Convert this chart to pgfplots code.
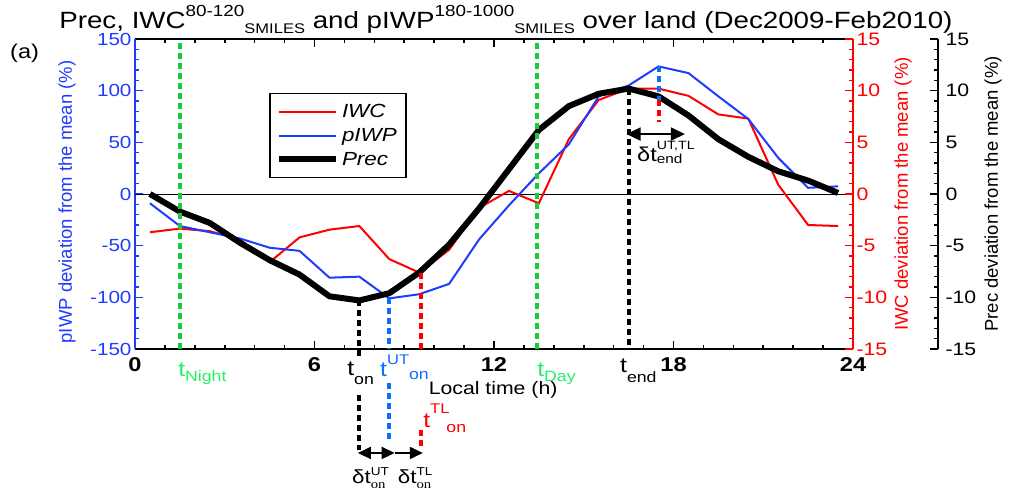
\documentclass[border=0pt]{standalone}
\usepackage{fontspec}
\setmainfont{Liberation Sans}[FakeStretch=1.18]
\newfontfamily\plainsans{Liberation Sans}
\newfontfamily\serifon{Liberation Serif}[FakeStretch=1.18]
\usepackage{pgfplots}
\usepackage{pgfplotstable}
\pgfplotsset{compat=1.18}
\usetikzlibrary{arrows.meta}
\definecolor{cRed}{RGB}{255,0,0}
\definecolor{cBlue}{RGB}{30,60,255}
\definecolor{cBlueD}{RGB}{10,110,255}
\definecolor{cGreen}{RGB}{20,205,60}
\definecolor{cGreenT}{RGB}{40,240,100}
\newcommand{\fs}[1]{\fontsize{#1bp}{#1bp}\selectfont}

\pgfplotstableread{
h    prec   piwp   iwc
0.5   0.0   -9     -3.7
1.5  -1.7   -31    -3.35
2.5  -2.8   -37    -3.6
3.5  -4.7   -43    -4.4
4.5  -6.4   -52    -6.6
5.5  -7.8   -55    -4.2
6.5  -9.9   -81    -3.45
7.5  -10.3  -80    -3.1
8.5  -9.6   -101   -6.3
9.5  -7.6   -97    -7.6
10.5 -4.9   -87    -5.4
11.5 -1.4   -44    -1.35
12.5  2.4   -11     0.3
13.5  6.2    20    -0.9
14.5  8.5    48     5.3
15.5  9.7    94.5   9.1
16.5 10.2   105    10.2
17.5  9.45  123.5  10.2
18.5  7.6   117     9.5
19.5  5.3    94.5   7.7
20.5  3.6    72.6   7.3
21.5  2.2    35     0.9
22.5  1.3     6    -3.0
23.5  0.1     7.4  -3.1
}\datatab

\begin{document}
\begin{tikzpicture}
\useasboundingbox (-135bp,-151bp) rectangle (874bp,349bp);
\begin{axis}[
  width=718bp, height=310bp, scale only axis,
  xmin=0, xmax=24, ymin=-150, ymax=150,
  clip=false,
  separate axis lines,
  x axis line style={black, line width=2bp},
  y axis line style={cBlue, line width=2bp},
  xtick={0,6,12,18,24}, xticklabels={0,6,12,18,24},
  minor x tick num=5,
  ytick={-150,-100,-50,0,50,100,150},
  yticklabels={-150,-100,-50,0,50,100,150},
  minor y tick num=4,
  xtick pos=both, ytick pos=left,
  tick align=inside,
  major tick length=8bp, minor tick length=4bp,
  x tick style={black, line width=1.6bp},
  minor x tick style={black, line width=1.6bp},
  y tick style={cBlue, line width=1.6bp},
  minor y tick style={cBlue, line width=1.6bp},
  xticklabel style={font=\bfseries\fs{20}, yshift=-5bp},
  yticklabel style={font=\fs{17.5}, text=cBlue},
  legend style={at={(rel axis cs:0.187,0.826)}, anchor=north west,
    draw=black, line width=1.5bp, fill=white,
    font=\itshape\fs{19}, inner xsep=6bp, inner ysep=8bp,
    row sep=3bp, nodes={inner sep=3bp}},
  legend cell align=left,
  legend image code/.code={\draw[#1] (0bp,0bp) -- (57bp,0bp);},
]
\addplot[black, line width=0.8bp, forget plot] coordinates {(0,0) (24,0)};
\addplot[cRed, line width=2bp] table[x=h, y expr=10*\thisrow{iwc}] {\datatab};
\addlegendentry{IWC}
\addplot[cBlue, line width=2bp] table[x=h, y=piwp] {\datatab};
\addlegendentry{pIWP}
\addplot[black, line width=6bp, line join=round] table[x=h, y expr=10*\thisrow{prec}] {\datatab};
\addlegendentry{Prec}

% vertical dashed markers
\addplot[cGreen, line width=4bp, dash pattern=on 6bp off 4bp, forget plot] coordinates {(1.5,-150) (1.5,150)};
\addplot[cGreen, line width=4bp, dash pattern=on 6bp off 4bp, forget plot] coordinates {(13.45,-150) (13.45,150)};
\addplot[black, line width=4bp, dash pattern=on 6bp off 4bp, forget plot] coordinates {(7.5,-103) (7.5,-157)};
\addplot[black, line width=4bp, dash pattern=on 6bp off 4bp, forget plot] coordinates {(7.5,-194.5) (7.5,-247.5)};
\addplot[cBlueD, line width=4bp, dash pattern=on 6bp off 4bp, forget plot] coordinates {(8.5,-101) (8.5,-150)};
\addplot[cBlueD, line width=4bp, dash pattern=on 6bp off 4bp, forget plot] coordinates {(8.5,-183) (8.5,-241)};
\addplot[cRed, line width=4bp, dash pattern=on 6bp off 4bp, forget plot] coordinates {(9.55,-76) (9.55,-150)};
\addplot[cRed, line width=4bp, dash pattern=on 6bp off 4bp, forget plot] coordinates {(9.55,-228) (9.55,-246)};
\addplot[black, line width=4bp, dash pattern=on 6bp off 4bp, forget plot] coordinates {(16.5,101.6) (16.5,-150)};
\addplot[cBlueD, line width=4bp, dash pattern=on 6bp off 4bp, forget plot] coordinates {(17.5,123.5) (17.5,91)};
\addplot[cRed, line width=4bp, dash pattern=on 6bp off 4bp, forget plot] coordinates {(17.5,91) (17.5,70)};

% arrows
\draw[{Triangle[length=13bp,width=12bp]}-{Triangle[length=13bp,width=12bp]}, line width=2bp] (axis cs:7.45,-250.6) -- (axis cs:8.68,-250.6);
\draw[-{Triangle[length=13bp,width=12bp]}, line width=2bp] (axis cs:8.68,-250.6) -- (axis cs:9.62,-250.6);
\draw[{Triangle[length=14bp,width=13bp]}-{Triangle[length=14bp,width=13bp]}, line width=2bp] (axis cs:16.43,58) -- (axis cs:18.38,58);

% labels
\node[anchor=base, inner sep=0, font=\fs{23.5}] at (axis cs:12.4,159.7)
  {Prec, IWC\raisebox{12bp}{\fs{16}80-120}\raisebox{-5bp}{\fs{14}SMILES} and pIWP\raisebox{12bp}{\fs{16}180-1000}\raisebox{-5bp}{\fs{14}SMILES} over land (Dec2009-Feb2010)};
\node[anchor=base west, inner sep=0, font=\fs{20}] at (axis cs:-4.18,131.6) {(a)};
\node[rotate=90, inner sep=0, font=\plainsans\fs{18.5}, text=cBlue] at (axis cs:-2.27,-7.7) {pIWP deviation from the mean (\%)};
\node[rotate=90, inner sep=0, font=\plainsans\fs{18.5}, text=cRed] at (axis cs:25.67,0) {IWC deviation from the mean (\%)};
\node[rotate=90, inner sep=0, font=\plainsans\fs{18.5}, text=black] at (axis cs:28.68,0) {Prec deviation from the mean (\%)};
\node[anchor=base, inner sep=0, font=\fs{18}] at (axis cs:11.97,-194) {Local time (h)};

\node[anchor=base west, inner sep=0, font=\fs{21}, text=cGreenT] at (axis cs:1.44,-177) {t\raisebox{-5bp}{\fs{15}Night}};
\node[anchor=base west, inner sep=0, font=\fs{21}, text=cGreenT] at (axis cs:13.44,-177) {t\raisebox{-5bp}{\fs{15}Day}};
\node[anchor=base west, inner sep=0, font=\fs{21}, text=black] at (axis cs:7.09,-176) {t\raisebox{-9bp}{\fs{15}on}};
\node[anchor=base west, inner sep=0, font=\fs{21}, text=cBlueD] at (axis cs:8.19,-177) {t\raisebox{12bp}{\fs{14}UT}\raisebox{-3bp}{\fs{15}on}};
\node[anchor=base west, inner sep=0, font=\fs{21}, text=cRed] at (axis cs:9.63,-225.6) {t\raisebox{14bp}{\fs{14}TL}\hspace{-3bp}\raisebox{-5bp}{\fs{15}on}};
\node[anchor=base west, inner sep=0, font=\fs{21}, text=black] at (axis cs:16.21,-173) {t\raisebox{-10bp}{\fs{15}end}};

\node[anchor=base west, inner sep=0, font=\fs{19}] at (axis cs:7.25,-279.7) {δt\rlap{\raisebox{8bp}{\fs{11.5}UT}}\raisebox{-5bp}{\fs{12.5}\serifon on}};
\node[anchor=base west, inner sep=0, font=\fs{19}] at (axis cs:8.78,-279.7) {δt\rlap{\raisebox{8bp}{\fs{11.5}TL}}\raisebox{-5bp}{\fs{12.5}\serifon on}};
\node[anchor=base west, inner sep=0, font=\fs{20}] at (axis cs:16.78,31) {δt\rlap{\raisebox{12bp}{\fs{12}UT,TL}}\raisebox{-2bp}{\fs{13}end}};
\end{axis}

\begin{axis}[
  width=718bp, height=310bp, scale only axis,
  xmin=0, xmax=24, ymin=-15, ymax=15,
  axis x line=none, axis y line*=right,
  ytick={-15,-10,-5,0,5,10,15}, yticklabels={-15,-10,-5,0,5,10,15},
  minor y tick num=4, tick align=inside,
  major tick length=8bp, minor tick length=4bp,
  y axis line style={cRed, line width=2bp},
  y tick style={cRed, line width=1.6bp},
  minor y tick style={cRed, line width=1.6bp},
  yticklabel style={font=\fs{18}, text=cRed},
]
\end{axis}

\begin{axis}[
  at={(85bp,0bp)},
  width=718bp, height=310bp, scale only axis,
  xmin=0, xmax=24, ymin=-15, ymax=15,
  axis x line=none, axis y line*=right,
  ytick={-15,-10,-5,0,5,10,15}, yticklabels={-15,-10,-5,0,5,10,15},
  minor y tick num=4, tick align=inside,
  major tick length=8bp, minor tick length=4bp,
  y axis line style={black, line width=2bp},
  y tick style={black, line width=1.6bp},
  minor y tick style={black, line width=1.6bp},
  yticklabel style={font=\fs{18}, text=black, xshift=4bp},
]
\end{axis}
\end{tikzpicture}
\end{document}
